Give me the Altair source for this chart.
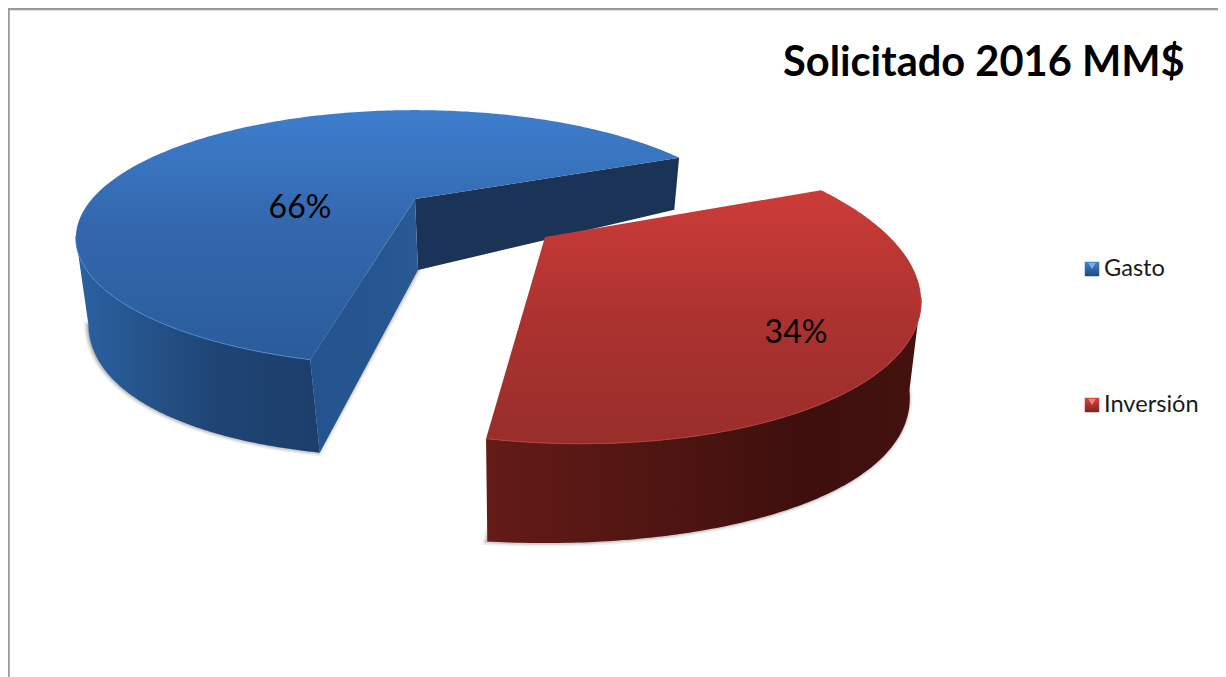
import math
import altair as alt

categories = ["Gasto", "Inversión"]
shares = [66, 34]
title_text = "Solicitado 2016 MM$"

W, H = 1210, 669
OFF = 8  # page margin


def rad(a):
    return math.radians(a)


class Slice:
    """Pie slice on a tilted disc; angles in degrees, screen clockwise."""

    def __init__(s, ax, ay, A, B, k, ax2, ay2, fx, B2, k2, roll=0.0, roll2=0.0):
        s.__dict__.update(locals())

    def _roll(s, dx, dy, deg):
        c, n = math.cos(rad(deg)), math.sin(rad(deg))
        return dx * c - dy * n, dx * n + dy * c

    def top(s, a):
        u, v = math.cos(rad(a)), math.sin(rad(a))
        w = 1 - s.k * v
        dx, dy = s._roll(s.A * u / w, s.B * v / w, s.roll)
        return (s.ax + dx - OFF, s.ay + dy - OFF)

    def bot(s, a):
        u, v = math.cos(rad(a)), math.sin(rad(a))
        w = 1 - s.k * v
        dx, dy = s._roll(s.fx * s.A * u / w, s.B2 * v / (1 - s.k2 * v), s.roll2)
        return (s.ax2 + dx - OFF, s.ay2 + dy - OFF)


def sweep(a0, a1, n=120):
    return [a0 + (a1 - a0) * i / n for i in range(n + 1)]


def poly(pts):
    pts = [list(p) for p in pts] + [list(pts[0])]
    return {"type": "Feature", "properties": {}, "geometry": {"type": "Polygon", "coordinates": [pts]}}


def line(pts):
    return {"type": "Feature", "properties": {}, "geometry": {"type": "LineString", "coordinates": [list(p) for p in pts]}}


def grad(stops, horizontal=True):
    st = [alt.GradientStop(color=c, offset=o) for o, c in stops]
    if horizontal:
        return alt.Gradient(gradient="linear", stops=st, x1=0, x2=1, y1=0, y2=0)
    return alt.Gradient(gradient="linear", stops=st, x1=0, x2=0, y1=0, y2=1)


def shape(feature, **kw):
    return alt.Chart(alt.Data(values=[feature])).mark_geoshape(**kw).project(
        type="identity", scale=1, translate=[0, 0]
    )


def shadow(pts):
    return [
        shape(poly(pts), fill="#777777", fillOpacity=0.2, stroke="#777777", strokeOpacity=0.12, strokeWidth=7),
        shape(poly(pts), fill="#777777", fillOpacity=0.2, stroke="#777777", strokeOpacity=0.25, strokeWidth=3.5),
    ]


blue = Slice(415, 199, 323, 116, 0.305, 418, 270, 0.975, 149, 0.2017, 0.0, -1.2)
red = Slice(545, 237, 361, 143, 0.305, 537, 343, 0.985, 160, 0.2, 3.0, 0.6)

b_start = -23.5
b_end = b_start - 360 * shares[0] / 100 * 0.982   # foreshortening of the tilted disc
r_start = -29.5
r_end = r_start + 360 * shares[1] / 100 * 1.02

layers = []

# frame
layers.append(
    alt.Chart(alt.Data(values=[{"a": 1}])).mark_rect(fill="white", stroke="#999999", strokeWidth=2.5).encode(
        x=alt.value(0.5), x2=alt.value(W + 20), y=alt.value(1), y2=alt.value(H + 20)
    )
)

# blue slice
b_outer_ang = sweep(-197.5, b_end)
b_outer = [blue.top(a) for a in b_outer_ang] + [blue.bot(a) for a in reversed(b_outer_ang)]
b_apex, b_apex2 = (blue.ax - OFF, blue.ay - OFF), (blue.ax2 - OFF, blue.ay2 - OFF)
b_inner = [b_apex, blue.top(b_start), blue.bot(b_start), b_apex2]
b_front = [b_apex, blue.top(b_end), blue.bot(b_end), b_apex2]
b_top = [b_apex] + [blue.top(a) for a in sweep(b_start, b_end, 240)]

layers += shadow([b_apex2] + [(x - 1, y) for x, y in (blue.bot(a) for a in b_outer_ang)])
layers.append(shape(poly(b_inner), fill="#1a3356"))
layers.append(shape(poly(b_outer), fill=grad([(0, "#2b62a3"), (0.3, "#245289"), (0.6, "#1f4473"), (1, "#1c3e6b")])))
layers.append(shape(poly(b_front), fill=grad([(0, "#24538f"), (0.6, "#265690"), (1, "#2a5a94")])))
layers.append(shape(poly(b_top), fill=grad([(0, "#3d7ecd"), (0.45, "#3368ae"), (1, "#2a5c9b")], horizontal=False)))
layers.append(shape(line([blue.top(a) for a in sweep(b_end + 60, b_end)]), filled=False, stroke="#4c88d0", strokeWidth=1))

# red slice
r_ang = sweep(15, r_end)
r_outer = [red.top(a) for a in r_ang] + [red.bot(a) for a in reversed(r_ang)]
r_apex = (red.ax - OFF, red.ay - OFF)
r_top = [r_apex] + [red.top(a) for a in sweep(r_start, r_end, 200)]
layers += shadow([(red.ax2 - OFF, red.ay2 - OFF)] + [(x - 1, y) for x, y in (red.bot(a) for a in r_ang)])
layers.append(shape(poly(r_outer), fill=grad([(0, "#641b17"), (0.4, "#4f1512"), (0.75, "#3d0f0d"), (1, "#44120f")])))
layers.append(shape(poly(r_top), fill=grad([(0, "#cc3c39"), (0.5, "#ac322f"), (1, "#982e2b")], horizontal=False)))
layers.append(shape(line([red.top(a) for a in r_ang]), filled=False, stroke="#bb3f3b", strokeWidth=1))

# texts
FONT = "Lato"
label_rows = [
    {"t": f"{shares[0]}%", "x": 300 - OFF, "y": 208 - OFF},
    {"t": f"{shares[1]}%", "x": 796 - OFF, "y": 333 - OFF},
]
layers.append(
    alt.Chart(alt.Data(values=label_rows)).mark_text(font=FONT, fontSize=32, color="black", align="center", baseline="middle").encode(
        x=alt.X("x:Q", scale=None), y=alt.Y("y:Q", scale=None), text="t:N"
    )
)
layers.append(
    alt.Chart(alt.Data(values=[{"t": title_text, "x": 783 - OFF, "y": 64 - OFF}])).mark_text(
        font=FONT, fontSize=41.6, fontWeight="bold", color="black", align="left", baseline="middle"
    ).encode(x=alt.X("x:Q", scale=None), y=alt.Y("y:Q", scale=None), text="t:N")
)
legend_y = [269 - OFF, 405 - OFF]
legend_cols = [
    [(0, "#3f83d2"), (1, "#1f4a80")],
    [(0, "#d8453f"), (1, "#7c2421")],
]
legend_tri = ["#86b8ec", "#ef918a"]
for cat, ly, cols, tri in zip(categories, legend_y, legend_cols, legend_tri):
    pt = [{"t": cat, "x": 1092 - OFF, "y": ly, "tx": 1104 - OFF, "ty": ly - 3}]
    layers.append(
        alt.Chart(alt.Data(values=pt)).mark_square(size=210, opacity=1, fill=grad(cols, horizontal=False)).encode(
            x=alt.X("x:Q", scale=None), y=alt.Y("y:Q", scale=None)
        )
    )
    layers.append(
        alt.Chart(alt.Data(values=pt)).mark_point(shape="triangle-down", filled=True, size=60, color=tri, opacity=0.85).encode(
            x=alt.X("x:Q", scale=None), y=alt.Y("ty:Q", scale=None)
        )
    )
    layers.append(
        alt.Chart(alt.Data(values=pt)).mark_text(font=FONT, fontSize=23.6, color="#1a1a1a", align="left", baseline="middle").encode(
            x=alt.X("tx:Q", scale=None), y=alt.Y("y:Q", scale=None), text="t:N"
        )
    )

chart = alt.layer(*layers).properties(width=W, height=H, padding=0, autosize=alt.AutoSizeParams(type="none")).configure_view(stroke=None)
chart.save("out.html", embed_options={"renderer": "svg", "actions": False})
